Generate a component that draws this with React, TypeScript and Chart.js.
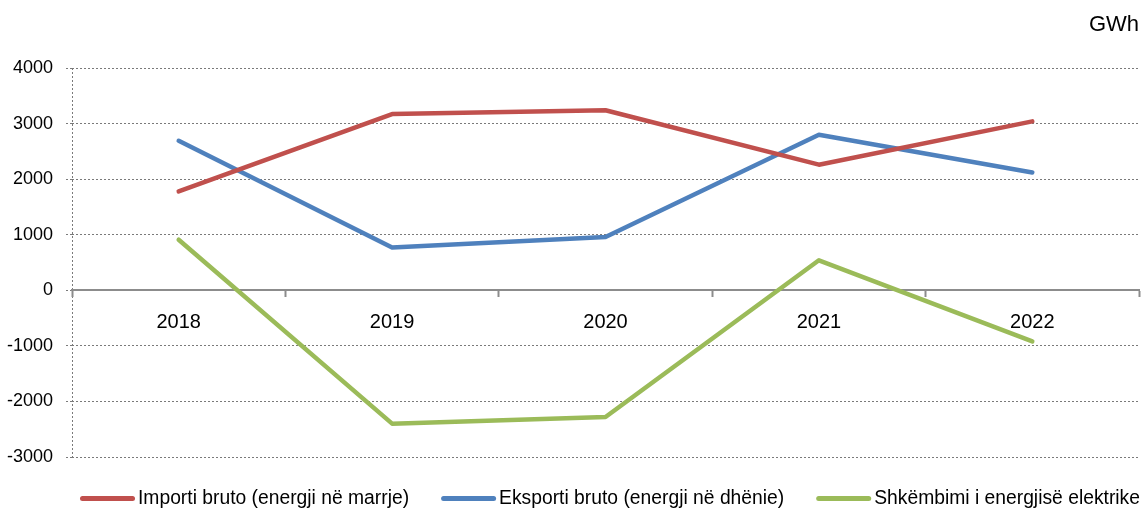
import React, { useEffect, useRef } from 'react';
import { Chart, registerables } from 'chart.js';

Chart.register(...registerables);

// ---- data ----
const categories = ['2018', '2019', '2020', '2021', '2022'];
const importValues = [1780, 3170, 3240, 2260, 3040];
const exportValues = [2690, 770, 960, 2800, 2120];
const exchangeValues = [910, -2400, -2280, 540, -920];
const seriesLabels = [
  'Importi bruto (energji në marrje)',
  'Eksporti bruto (energji në dhënie)',
  'Shkëmbimi i energjisë elektrike',
];
const seriesColors = ['#C0504D', '#4F81BD', '#9BBB59'];
const yMin = -3000;
const yMax = 4000;
const yStep = 1000;
const unitLabel = 'GWh';

export default function App() {
  const ref = useRef<HTMLCanvasElement | null>(null);

  useEffect(() => {
    document.body.style.margin = '0';
    const family = '"Liberation Sans", Arial, sans-serif';
    const xSize = 20;
    const legendSize = 19.3;
    const ySize = 18;

    const legendPlugin = {
      id: 'bottomLegend',
      afterDraw(chart: any) {
        const ctx = chart.ctx as CanvasRenderingContext2D;
        ctx.save();
        ctx.font = `${legendSize}px ${family}`;
        ctx.textBaseline = 'middle';
        ctx.textAlign = 'left';
        let x = 80;
        const y = 498.5;
        chart.data.datasets.forEach((ds: any) => {
          ctx.strokeStyle = ds.borderColor;
          ctx.lineWidth = 5;
          ctx.lineCap = 'round';
          ctx.beginPath();
          ctx.moveTo(x + 2.5, y);
          ctx.lineTo(x + 52.5, y);
          ctx.stroke();
          ctx.fillStyle = '#000';
          ctx.fillText(ds.label, x + 58, y);
          x += 58 + ctx.measureText(ds.label).width + 32;
        });
        ctx.restore();
      },
    };

    const mk = (i: number, data: number[]) => ({
      label: seriesLabels[i],
      data,
      borderColor: seriesColors[i],
      backgroundColor: seriesColors[i],
      borderWidth: 4.5,
      pointRadius: 0,
      tension: 0,
      fill: false,
      borderCapStyle: 'round' as const,
      borderJoinStyle: 'round' as const,
    });

    const chart = new Chart(ref.current as HTMLCanvasElement, {
      type: 'line',
      data: {
        labels: categories,
        datasets: [mk(0, importValues), mk(1, exportValues), mk(2, exchangeValues)],
      },
      plugins: [legendPlugin],
      options: {
        animation: false,
        responsive: false,
        devicePixelRatio: 1,
        layout: { padding: { left: 0, right: 8, top: 0, bottom: 55 } },
        plugins: {
          legend: { display: false },
          tooltip: { enabled: false },
          title: {
            display: true,
            text: unitLabel,
            align: 'end',
            color: '#000',
            font: { family, size: 22, weight: 'normal' },
            padding: { top: 12, bottom: 29.6 },
          },
        },
        scales: {
          x: {
            type: 'category',
            position: { y: 0 } as any,
            offset: true,
            grid: {
              offset: true,
              drawOnChartArea: true,
              color: (c: any) => (c.index === 0 ? '#7a7a7a' : 'rgba(0,0,0,0)'),
              lineWidth: 1,
              drawTicks: true,
              tickLength: 6,
              tickColor: '#8c8c8c',
              tickWidth: 2,
            },
            border: { display: true, color: '#8c8c8c', width: 2, dash: [2, 2] },
            ticks: {
              color: '#000',
              font: { family, size: xSize },
              padding: 14,
              maxRotation: 0,
              autoSkip: false,
            },
            afterFit: (s: any) => {
              s.height = 0;
            },
          },
          y: {
            type: 'linear',
            min: yMin,
            max: yMax,
            ticks: {
              stepSize: yStep,
              color: '#000',
              font: { family, size: ySize },
              padding: 13,
              callback: (v: any) => String(v),
            },
            grid: {
              color: '#7a7a7a',
              lineWidth: 1,
              tickLength: 6,
              tickColor: '#7a7a7a',
              tickBorderDash: [2, 2],
            },
            border: { display: false, dash: [2, 2] },
            afterFit: (s: any) => {
              s.width = 72;
            },
          },
        },
      },
    });
    return () => chart.destroy();
  }, []);

  return (
    <div style={{ width: 1147, height: 512 }}>
      <canvas ref={ref} width={1147} height={512} style={{ display: 'block' }} />
    </div>
  );
}
